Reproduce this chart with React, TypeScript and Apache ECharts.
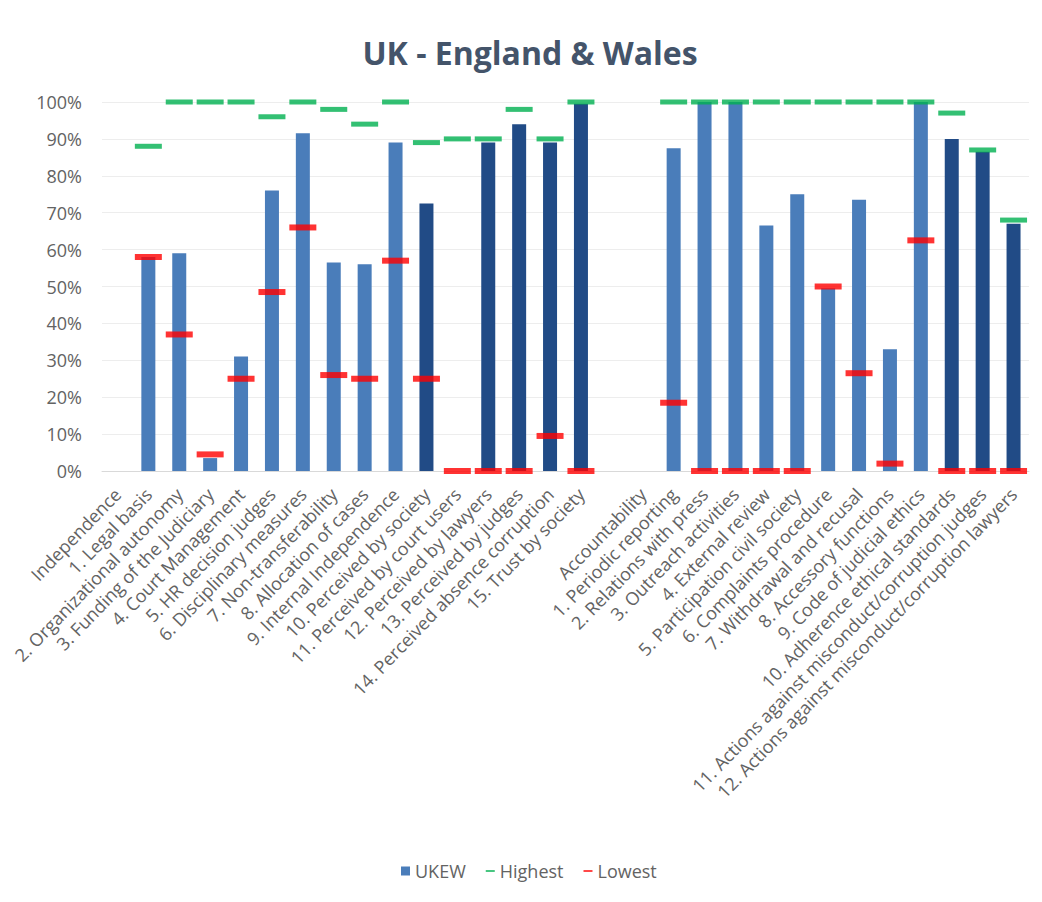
import React, { useEffect, useRef } from "react";
import * as echarts from "echarts";

const titleText = "UK - England & Wales";

const categories = [
  "Independence",
  "1. Legal basis",
  "2. Organizational autonomy",
  "3. Funding of the Judiciary",
  "4. Court Management",
  "5. HR decision judges",
  "6. Disciplinary measures",
  "7. Non-transferability",
  "8. Allocation of cases",
  "9. Internal Independence",
  "10. Perceived by society",
  "11. Perceived by court users",
  "12. Perceived by lawyers",
  "13. Perceived by judges",
  "14. Perceived absence corruption",
  "15. Trust by society",
  "",
  "Accountability",
  "1. Periodic reporting",
  "2. Relations with press",
  "3. Outreach activities",
  "4. External review",
  "5. Participation civil society",
  "6. Complaints procedure",
  "7. Withdrawal and recusal",
  "8. Accessory functions",
  "9. Code of judicial ethics",
  "10. Adherence ethical standards",
  "11. Actions against misconduct/corruption judges",
  "12. Actions against misconduct/corruption lawyers",
];

// indicator kind: header/gap, formal indicator, perception indicator
const indicatorKind = [
  "header", "formal", "formal", "formal", "formal", "formal", "formal", "formal", "formal", "formal",
  "perception", "perception", "perception", "perception", "perception", "perception",
  "header", "header",
  "formal", "formal", "formal", "formal", "formal", "formal", "formal", "formal", "formal",
  "perception", "perception", "perception",
];

const ukew = [
  null, 58, 59, 3.5, 31, 76, 91.5, 56.5, 56, 89, 72.5, 0, 89, 94, 89, 99.5,
  null, null, 87.5, 100, 100, 66.5, 75, 49.5, 73.5, 33, 100, 90, 86.5, 67,
];

const highest = [
  null, 88, 100, 100, 100, 96, 100, 98, 94, 100, 89, 90, 90, 98, 90, 100,
  null, null, 100, 100, 100, 100, 100, 100, 100, 100, 100, 97, 87, 68,
];

const lowest = [
  null, 58, 37, 4.5, 25, 48.5, 66, 26, 25, 57, 25, 0, 0, 0, 9.5, 0,
  null, null, 18.5, 0, 0, 0, 0, 50, 26.5, 2, 62.5, 0, 0, 0,
];

const yTicks = [0, 10, 20, 30, 40, 50, 60, 70, 80, 90, 100];

const LIGHT = "#4A7DBA";
const DARK = "#214B86";
const GREEN = "#00B050";
const RED = "#FF0000";
const TEXT = "#636363";
const FONT = "'Open Sans', 'Noto Sans', sans-serif";

export default function App() {
  const ref = useRef<HTMLDivElement>(null);

  useEffect(() => {
    if (!ref.current) return;
    const chart = echarts.init(ref.current, null, { renderer: "svg" });

    const barData = ukew.map((v, i) => ({
      value: v,
      itemStyle: { color: indicatorKind[i] === "perception" ? DARK : LIGHT },
    }));

    chart.setOption({
      animation: false,
      backgroundColor: "#ffffff",
      graphic: [
        {
          type: "text",
          x: 530,
          y: 52,
          style: {
            text: titleText,
            fill: "#44546A",
            font: `bold 32px ${FONT}`,
            align: "center",
            verticalAlign: "middle",
          },
        },
      ],
      legend: {
        left: 396,
        top: 857,
        itemWidth: 9,
        itemHeight: 9,
        itemGap: 20,
        textStyle: { color: TEXT, fontSize: 18, fontFamily: FONT },
        data: [
          { name: "UKEW", icon: "rect", itemStyle: { color: LIGHT } },
          { name: "Highest", icon: "path://M0,4h10v2h-10z", itemStyle: { color: GREEN } },
          { name: "Lowest", icon: "path://M0,4h10v2h-10z", itemStyle: { color: RED } },
        ],
      },
      grid: { left: 102, right: 13, top: 102, height: 369, containLabel: false },
      xAxis: {
        type: "category",
        data: categories,
        boundaryGap: true,
        axisLine: { show: true, lineStyle: { color: "#D9D9D9", width: 1 } },
        axisTick: { show: false },
        axisLabel: {
          interval: 0,
          rotate: 46,
          margin: 20,
          color: TEXT,
          fontSize: 18,
          fontFamily: FONT,
        },
      },
      yAxis: {
        type: "value",
        min: yTicks[0],
        max: yTicks[yTicks.length - 1],
        interval: yTicks[1] - yTicks[0],
        axisLine: { show: false },
        axisTick: { show: false },
        splitLine: { lineStyle: { color: "#EDEDED", width: 1 } },
        axisLabel: {
          formatter: "{value}%",
          color: TEXT,
          fontSize: 18,
          fontFamily: FONT,
          margin: 20,
        },
      },
      series: [
        {
          name: "UKEW",
          type: "bar",
          data: barData,
          barWidth: 14,
          itemStyle: { color: LIGHT },
        },
        {
          name: "Highest",
          type: "scatter",
          data: highest,
          symbol: "rect",
          symbolSize: [27, 5],
          itemStyle: { color: GREEN },
          z: 3,
        },
        {
          name: "Lowest",
          type: "scatter",
          data: lowest,
          symbol: "rect",
          symbolSize: [27, 6],
          itemStyle: { color: RED },
          z: 4,
        },
      ],
    });

    return () => chart.dispose();
  }, []);

  return (
    <div
      ref={ref}
      style={{ position: "fixed", left: 0, top: 0, width: 1042, height: 902, background: "#fff" }}
    />
  );
}
